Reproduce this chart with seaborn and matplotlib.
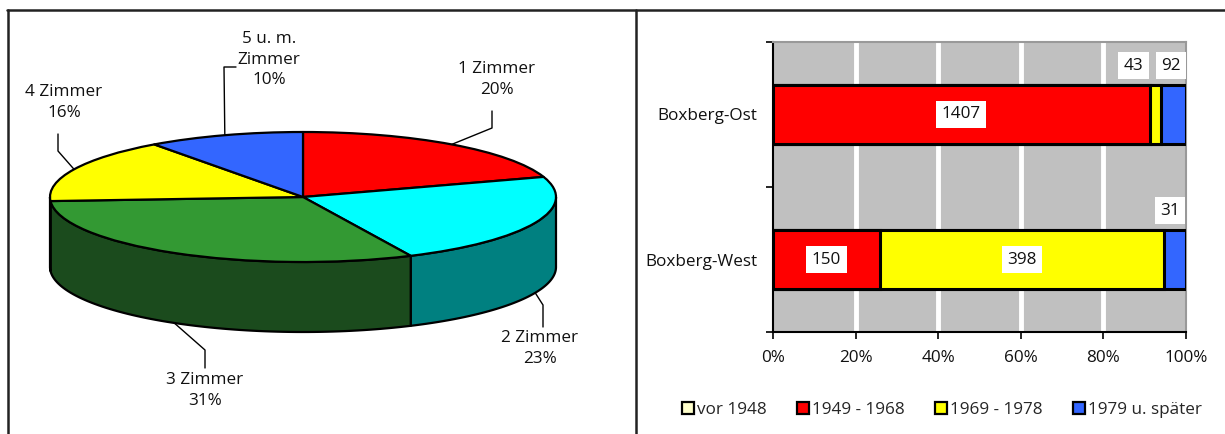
import numpy as np
import pandas as pd
import matplotlib
matplotlib.use("Agg")
import matplotlib.pyplot as plt
from matplotlib.patches import Polygon, Patch
from matplotlib.lines import Line2D
import seaborn as sns

# ---- data -------------------------------------------------------------
room_labels = ["1 Zimmer", "2 Zimmer", "3 Zimmer", "4 Zimmer", "5 u. m.\nZimmer"]
room_shares = [20, 23, 31, 16, 10]
room_colors = ["#FF0000", "#00FFFF", "#339933", "#FFFF00", "#3366FF"]
room_side_colors = ["#990000", "#008080", "#1B4B1D", "#999900", "#1F3D99"]

districts = ["Boxberg-Ost", "Boxberg-West"]
periods = ["vor 1948", "1949 - 1968", "1969 - 1978", "1979 u. später"]
counts_vor1948 = [0, 0]
counts_1949_1968 = [1407, 150]
counts_1969_1978 = [43, 398]
counts_1979 = [92, 31]
period_colors = ["#FFFFCC", "#FF0000", "#FFFF00", "#3366FF"]
pct_ticks = [0, 20, 40, 60, 80, 100]

W, H = 1225, 434
FS = 12.3
sns.set_theme(style="white")
plt.rcParams["font.family"] = ["Open Sans", "DejaVu Sans"]
fig = plt.figure(figsize=(W / 100, H / 100), dpi=100)


def fig_box(x0, y0, x1, y1):
    """Axes rectangle from pixel edges measured from the top-left corner."""
    return [x0 / W, (H - y1) / H, (x1 - x0) / W, (y1 - y0) / H]


def px(x, y):
    return x / W, (H - y) / H


# ---- panel frame --------------------------------------------------------
frame_kw = dict(color="#222222", linewidth=1.8, transform=fig.transFigure)
fig.add_artist(Line2D([px(7, 10)[0], 1.0], [px(7, 10)[1]] * 2, **frame_kw))
fig.add_artist(Line2D([px(8, 0)[0]] * 2, [px(0, 10)[1], 0], **frame_kw))
fig.add_artist(Line2D([px(636, 0)[0]] * 2, [px(0, 10)[1], 0], **frame_kw))

# ---- 3D pie -------------------------------------------------------------
depth = 70 / 65  # side height in units of the ellipse's vertical radius
pax = fig.add_axes(fig_box(50, 132, 556, 332))
fractions = np.array(room_shares, dtype=float) / sum(room_shares)
cum = np.concatenate([[0], np.cumsum(fractions)])
# wedge angles (deg, counter-clockwise from +x), clockwise from 12 o'clock
ang_start = 90 - 360 * cum[:-1]
ang_end = 90 - 360 * cum[1:]

# front side walls: parts of each wedge lying in the lower half (-180..0 deg)
for i in range(len(room_shares)):
    lo, hi = ang_end[i], ang_start[i]
    for shift in (0, -360):
        a, b = max(lo + shift, -180), min(hi + shift, 0)
        if b - a <= 0.05:
            continue
        t = np.radians(np.linspace(a, b, 80))
        top = np.column_stack([np.cos(t), np.sin(t)])
        bot = np.column_stack([np.cos(t[::-1]), np.sin(t[::-1]) - depth])
        pax.add_patch(Polygon(np.vstack([top, bot]), closed=True,
                              facecolor=room_side_colors[i], edgecolor="black",
                              linewidth=1.6, clip_on=False, zorder=1,
                              joinstyle="round"))

wedges, _ = pax.pie(room_shares, colors=room_colors, startangle=90,
                    counterclock=False, radius=1,
                    wedgeprops=dict(edgecolor="black", linewidth=1.6,
                                    clip_on=False, joinstyle="round"))
for w in wedges:
    w.set_zorder(2)
pax.set_aspect("auto")
pax.set_xlim(-1, 1)
pax.set_ylim(-1 - depth, 1)
pax.axis("off")
fig.canvas.draw()

# labels with elbow leader lines starting at each wedge's mid-angle
mid = np.radians((ang_start + ang_end) / 2)
label_layout = [
    # (elbow x, elbow y, end x, end y, text x, text top y)
    (492, 128, 492, 111, 497, 61),
    (543, 305, 543, 327, 540, 330),
    (205, 350, 205, 368, 205, 372),
    (58, 151, 58, 134, 64, 84),
    (224, 67, 236, 67, 269, 31),
]
inv = fig.transFigure.inverted()
for i, (ex, ey, fx, fy, tx, ty) in enumerate(label_layout):
    mx, my = np.cos(mid[i]), np.sin(mid[i])
    if my < 0:
        my -= depth  # front wedges: leader starts on the lower rim
    sx, sy = inv.transform(pax.transData.transform((mx, my)))
    xs = [sx, px(ex, ey)[0], px(fx, fy)[0]]
    ys = [sy, px(ex, ey)[1], px(fx, fy)[1]]
    fig.add_artist(Line2D(xs, ys, color="black", linewidth=1.0,
                          transform=fig.transFigure))
    fig.text(*px(tx, ty), f"{room_labels[i]}\n{room_shares[i]}%",
             ha="center", va="top", fontsize=FS, color="#111111",
             linespacing=1.38)

# ---- stacked 100% bars ----------------------------------------------------
df = pd.DataFrame({"district": districts,
                   periods[0]: counts_vor1948,
                   periods[1]: counts_1949_1968,
                   periods[2]: counts_1969_1978,
                   periods[3]: counts_1979})
totals = df[periods].sum(axis=1)
pct = df[periods].div(totals, axis=0) * 100
cum_pct = pct.cumsum(axis=1)

bax = fig.add_axes(fig_box(773, 42, 1186, 332))
bax.set_facecolor("#C0C0C0")
for j in reversed(range(len(periods))):
    sns.barplot(x=cum_pct[periods[j]].values, y=df["district"], orient="h",
                color=period_colors[j], saturation=1, width=0.41,
                edgecolor="black", linewidth=2.2 if j > 0 else 0, ax=bax,
                zorder=3)

bax.set_xlim(0, 100)
bax.set_ylim(1.5, -0.5)
bax.set_xticks(pct_ticks)
bax.set_xticklabels([f"{v}%" for v in pct_ticks], fontsize=FS,
                    color="#111111")
bax.tick_params(axis="x", direction="out", length=5, width=1.2,
                color="black", pad=8, bottom=True)
bax.set_yticks(range(len(districts)))
bax.set_yticklabels(districts, fontsize=FS, color="#111111")
bax.tick_params(axis="y", length=0, pad=11)
bax.set_yticks([-0.5, 0.5, 1.5], minor=True)
bax.tick_params(axis="y", which="minor", direction="out", length=5,
                width=1.2, color="black", left=True)
bax.set_xlabel("")
bax.set_ylabel("")
for v in pct_ticks[1:-1]:
    bax.axvline(v, color="white", linewidth=3.5, zorder=1)
for side in ("left", "bottom"):
    bax.spines[side].set_color("black")
    bax.spines[side].set_linewidth(1.5)
for side in ("top", "right"):
    bax.spines[side].set_color("#999999")
    bax.spines[side].set_linewidth(1.5)

# value labels: inside wide segments, above the bar for narrow ones
label_box = dict(boxstyle="square,pad=0.32", facecolor="white",
                 edgecolor="none")
above_nudge = {(0, 2): -5.4, (0, 3): -0.6, (1, 3): -1.2}
for r in range(len(districts)):
    for j in range(len(periods)):
        value = df.loc[r, periods[j]]
        if value == 0:
            continue
        width = pct.loc[r, periods[j]]
        centre = cum_pct.loc[r, periods[j]] - width / 2
        if width > 8:
            x, y = centre, r
        else:
            x, y = centre + above_nudge.get((r, j), 0), r - 0.335
        bax.text(x, y, f"{value}", ha="center", va="center", fontsize=FS,
                 color="#111111", bbox=label_box, zorder=5)

handles = [Patch(facecolor=c, edgecolor="black", linewidth=1.6)
           for c in period_colors]
fig.legend(handles, periods, loc="center", ncol=4,
           bbox_to_anchor=(px(942, 410)), frameon=False, fontsize=FS,
           handlelength=0.7, handleheight=0.7, handletextpad=0.2,
           columnspacing=1.75, borderaxespad=0)

fig.savefig("out.png", dpi=100, facecolor="white")
